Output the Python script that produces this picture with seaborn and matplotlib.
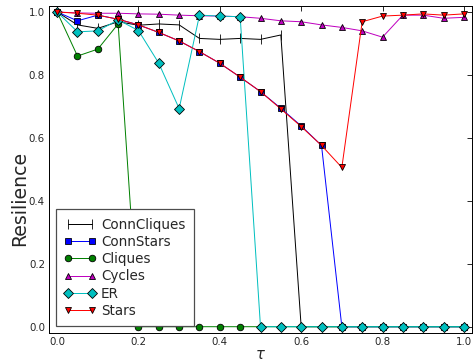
import numpy as np
import pandas as pd
import matplotlib
matplotlib.use("Agg")
import matplotlib.pyplot as plt
import seaborn as sns

# Threshold values
tau = [0.0, 0.05, 0.10, 0.15, 0.20, 0.25, 0.30, 0.35, 0.40, 0.45, 0.50,
       0.55, 0.60, 0.65, 0.70, 0.75, 0.80, 0.85, 0.90, 0.95, 1.0]

# Resilience per network family
conn_cliques = [1.0, 0.959, 0.948, 0.969, 0.958, 0.962, 0.959, 0.916, 0.913, 0.916, 0.913,
                0.927, 0.0, 0.0, 0.0, 0.0, 0.0, 0.0, 0.0, 0.0, 0.0]
conn_stars = [1.0, 0.972, 0.990, 0.977, 0.959, 0.935, 0.908, 0.874, 0.837, 0.793, 0.747,
              0.694, 0.638, 0.576, 0.0, 0.0, 0.0, 0.0, 0.0, 0.0, 0.0]
cliques = [1.0, 0.860, 0.882, 0.962, 0.0, 0.0, 0.0, 0.0, 0.0, 0.0, 0.0,
           0.0, 0.0, 0.0, 0.0, 0.0, 0.0, 0.0, 0.0, 0.0, 0.0]
cycles = [1.0, 0.997, 0.996, 0.996, 0.994, 0.993, 0.990, 0.988, 0.987, 0.985, 0.980,
          0.972, 0.969, 0.959, 0.951, 0.940, 0.920, 0.990, 0.990, 0.980, 0.983]
er = [1.0, 0.937, 0.940, 0.975, 0.941, 0.837, 0.693, 0.990, 0.987, 0.985, 0.0,
      0.0, 0.0, 0.0, 0.0, 0.0, 0.0, 0.0, 0.0, 0.0, 0.0]
stars = [1.0, 0.996, 0.990, 0.977, 0.959, 0.935, 0.908, 0.874, 0.837, 0.793, 0.747,
         0.692, 0.636, 0.576, 0.506, 0.969, 0.987, 0.990, 0.994, 0.990, 0.994]

series = [
    ("ConnCliques", conn_cliques, "k", "|"),
    ("ConnStars", conn_stars, "b", "s"),
    ("Cliques", cliques, "g", "o"),
    ("Cycles", cycles, "m", "^"),
    ("ER", er, "c", "D"),
    ("Stars", stars, "r", "v"),
]

sns.set_style("white")
plt.rcParams["font.family"] = ["DejaVu Sans"]
plt.rcParams["xtick.direction"] = "in"
plt.rcParams["ytick.direction"] = "in"
plt.rcParams["xtick.top"] = True
plt.rcParams["ytick.right"] = True

fig = plt.figure(figsize=(8, 362 / 59.125), dpi=59.125)
ax = fig.add_axes([49 / 473, 29 / 362, 423 / 473, 327.3 / 362])

for name, vals, color, marker in series:
    df = pd.DataFrame({"tau": tau, "resilience": vals})
    ms = 11 if marker == "|" else 8
    sns.lineplot(data=df, x="tau", y="resilience", ax=ax, color=color,
                 marker=marker, markersize=ms, markeredgecolor="k",
                 markeredgewidth=1.0, linewidth=1.2, label=name)

ax.set_xlim(-0.02, 1.02)
ax.set_ylim(-0.02, 1.02)
ax.set_xticks([0.0, 0.2, 0.4, 0.6, 0.8, 1.0])
ax.set_yticks([0.0, 0.2, 0.4, 0.6, 0.8, 1.0])
ax.set_xticklabels(["0.0", "0.2", "0.4", "0.6", "0.8", "1.0"])
ax.set_yticklabels(["0.0", "0.2", "0.4", "0.6", "0.8", "1.0"])
ax.tick_params(axis="both", which="major", length=6, width=1, labelsize=12.5,
               color="k", pad=5)
for sp in ax.spines.values():
    sp.set_color("k")
    sp.set_linewidth(1.2)

ax.set_xlabel(r"$\tau$", fontsize=18, labelpad=0)
ax.set_ylabel("Resilience", fontsize=23)
ax.yaxis.set_label_coords(-0.047, 0.41)

leg = ax.legend(loc="lower left", fontsize=16.5, numpoints=2, fancybox=False,
                framealpha=1, edgecolor="0.3", handlelength=2.33,
                borderaxespad=0.5, borderpad=0.62, labelspacing=0.24,
                handletextpad=0.37)
leg.get_frame().set_linewidth(1.5)

fig.savefig("out.png", dpi=59.125, facecolor="white")
